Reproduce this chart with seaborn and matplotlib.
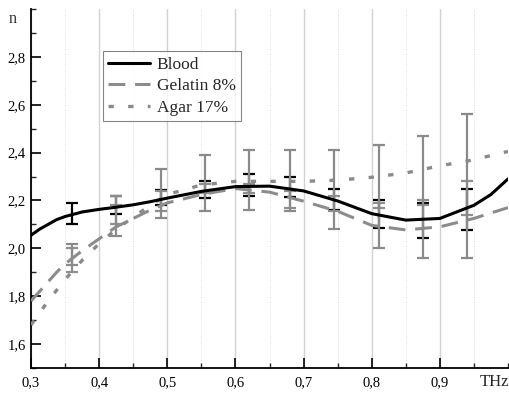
import numpy as np
import pandas as pd
import matplotlib
matplotlib.use("Agg")
import matplotlib.pyplot as plt
from matplotlib.ticker import FuncFormatter, MultipleLocator
import seaborn as sns

# ---- data ----
freq = [0.30, 0.3125, 0.325, 0.3375, 0.35, 0.375, 0.40, 0.425, 0.45, 0.475, 0.50, 0.55, 0.60,
        0.65, 0.70, 0.75, 0.80, 0.85, 0.90, 0.95, 0.975, 1.00]
blood = [2.055, 2.08, 2.10, 2.12, 2.133, 2.152, 2.163, 2.172, 2.182, 2.195, 2.21, 2.238, 2.258,
         2.26, 2.24, 2.198, 2.145, 2.118, 2.125, 2.18, 2.225, 2.29]
gelatin = [1.78, 1.82, 1.86, 1.90, 1.935, 1.99, 2.04, 2.09, 2.125, 2.16, 2.19, 2.225, 2.25,
           2.235, 2.197, 2.155, 2.096, 2.077, 2.09, 2.125, 2.148, 2.17]
agar = [1.68, 1.73, 1.78, 1.825, 1.87, 1.95, 2.02, 2.08, 2.13, 2.18, 2.225, 2.265, 2.28,
        2.28, 2.28, 2.285, 2.297, 2.315, 2.345, 2.37, 2.388, 2.405]

err_x = [0.36, 0.425, 0.49, 0.555, 0.62, 0.68, 0.745, 0.81, 0.875, 0.94]
blood_lo = [2.10, 2.145, 2.18, 2.21, 2.22, 2.215, 2.16, 2.085, 2.045, 2.076]
blood_hi = [2.19, 2.22, 2.245, 2.28, 2.31, 2.30, 2.25, 2.20, 2.19, 2.25]
gel_lo = [1.93, 2.05, 2.125, 2.155, 2.16, 2.155, 2.08, 2.00, 1.96, 1.96]
gel_hi = [2.02, 2.22, 2.33, 2.39, 2.41, 2.41, 2.41, 2.43, 2.47, 2.56]
agar_lo = [1.90, 2.10, 2.155, 2.23, 2.232, 2.167, 2.158, 2.17, 2.18, 2.14]
agar_hi = [2.00, 2.18, 2.24, 2.27, 2.27, 2.24, 2.22, 2.19, 2.20, 2.28]

x_ticks = [0.3, 0.4, 0.5, 0.6, 0.7, 0.8, 0.9]
y_ticks = [1.6, 1.8, 2.0, 2.2, 2.4, 2.6, 2.8]

# ---- style ----
sns.set_theme(style="white")
plt.rcParams['font.family'] = ['Liberation Serif', 'DejaVu Serif']

fig = plt.figure(figsize=(5.09, 3.94), dpi=100)
ax = fig.add_axes([0.061, 0.066, 0.937, 0.911])

df = pd.DataFrame({"f": freq, "Blood": blood, "Gelatin 8%": gelatin, "Agar 17%": agar})

def ebars(lo, hi, color, z):
    lo = np.array(lo); hi = np.array(hi)
    mid = (lo + hi) / 2
    ax.errorbar(err_x, mid, yerr=[mid - lo, hi - mid], fmt='none', ecolor=color,
                elinewidth=1.6, capsize=4, capthick=1.6, zorder=z)

ebars(blood_lo, blood_hi, 'black', 2)
ebars(agar_lo, agar_hi, '#8e8e8e', 3)
ebars(gel_lo, gel_hi, '#8a8a8a', 3)

sns.lineplot(data=df, x="f", y="Blood", ax=ax, color='black', lw=2.2,
             label="Blood", zorder=5)
sns.lineplot(data=df, x="f", y="Gelatin 8%", ax=ax, color='#8c8c8c', lw=2.2,
             label="Gelatin 8%", zorder=4)
sns.lineplot(data=df, x="f", y="Agar 17%", ax=ax, color='#8a8a8a', lw=2.4,
             label="Agar 17%", zorder=4)
lines = ax.get_lines()
lines[-2].set_dashes((5.5, 3.2))
lines[-1].set_dashes((1.6, 4.3))

ax.set_xlim(0.3, 1.0)
ax.set_ylim(1.5, 3.0)
ax.set_xticks(x_ticks)
ax.xaxis.set_minor_locator(MultipleLocator(0.05))
ax.set_yticks(y_ticks)
ax.yaxis.set_minor_locator(MultipleLocator(0.1))
fmt = FuncFormatter(lambda v, p: f"{v:.1f}".replace('.', ','))
ax.xaxis.set_major_formatter(fmt)
ax.yaxis.set_major_formatter(fmt)
ax.tick_params(axis='both', which='major', direction='in', length=7, width=1.2,
               labelsize=10.5, colors='black', pad=6, bottom=True, left=True)
ax.tick_params(axis='both', which='minor', direction='in', length=3.5, width=1.0,
               bottom=True, left=True)
ax.tick_params(axis='y', which='major', pad=4)

ax.grid(False)
ax.grid(which='major', axis='x', color='#d2d2d2', lw=1.0)
ax.grid(which='minor', axis='x', color='#dcdcdc', lw=0.7, ls=(0, (1, 1.5)))
ax.set_axisbelow(True)

for s in ['top', 'right']:
    ax.spines[s].set_visible(False)
for s in ['left', 'bottom']:
    ax.spines[s].set_color('black')
    ax.spines[s].set_linewidth(1.3)

ax.set_xlabel("")
ax.set_ylabel("")
ax.text(-0.038, 0.972, "n", transform=ax.transAxes, ha='center', va='center', fontsize=11.5)
ax.text(0.972, -0.04, "THz", transform=ax.transAxes, ha='center', va='center', fontsize=12)

leg = ax.legend(loc='upper left', bbox_to_anchor=(0.151, 0.882), fontsize=12.5,
                frameon=True, fancybox=False, handlelength=2.4, handletextpad=0.4,
                borderpad=0.3, labelspacing=0.32, borderaxespad=0)
leg.get_frame().set_edgecolor('#666666')
leg.get_frame().set_linewidth(0.8)

fig.savefig("out.png", dpi=100)
